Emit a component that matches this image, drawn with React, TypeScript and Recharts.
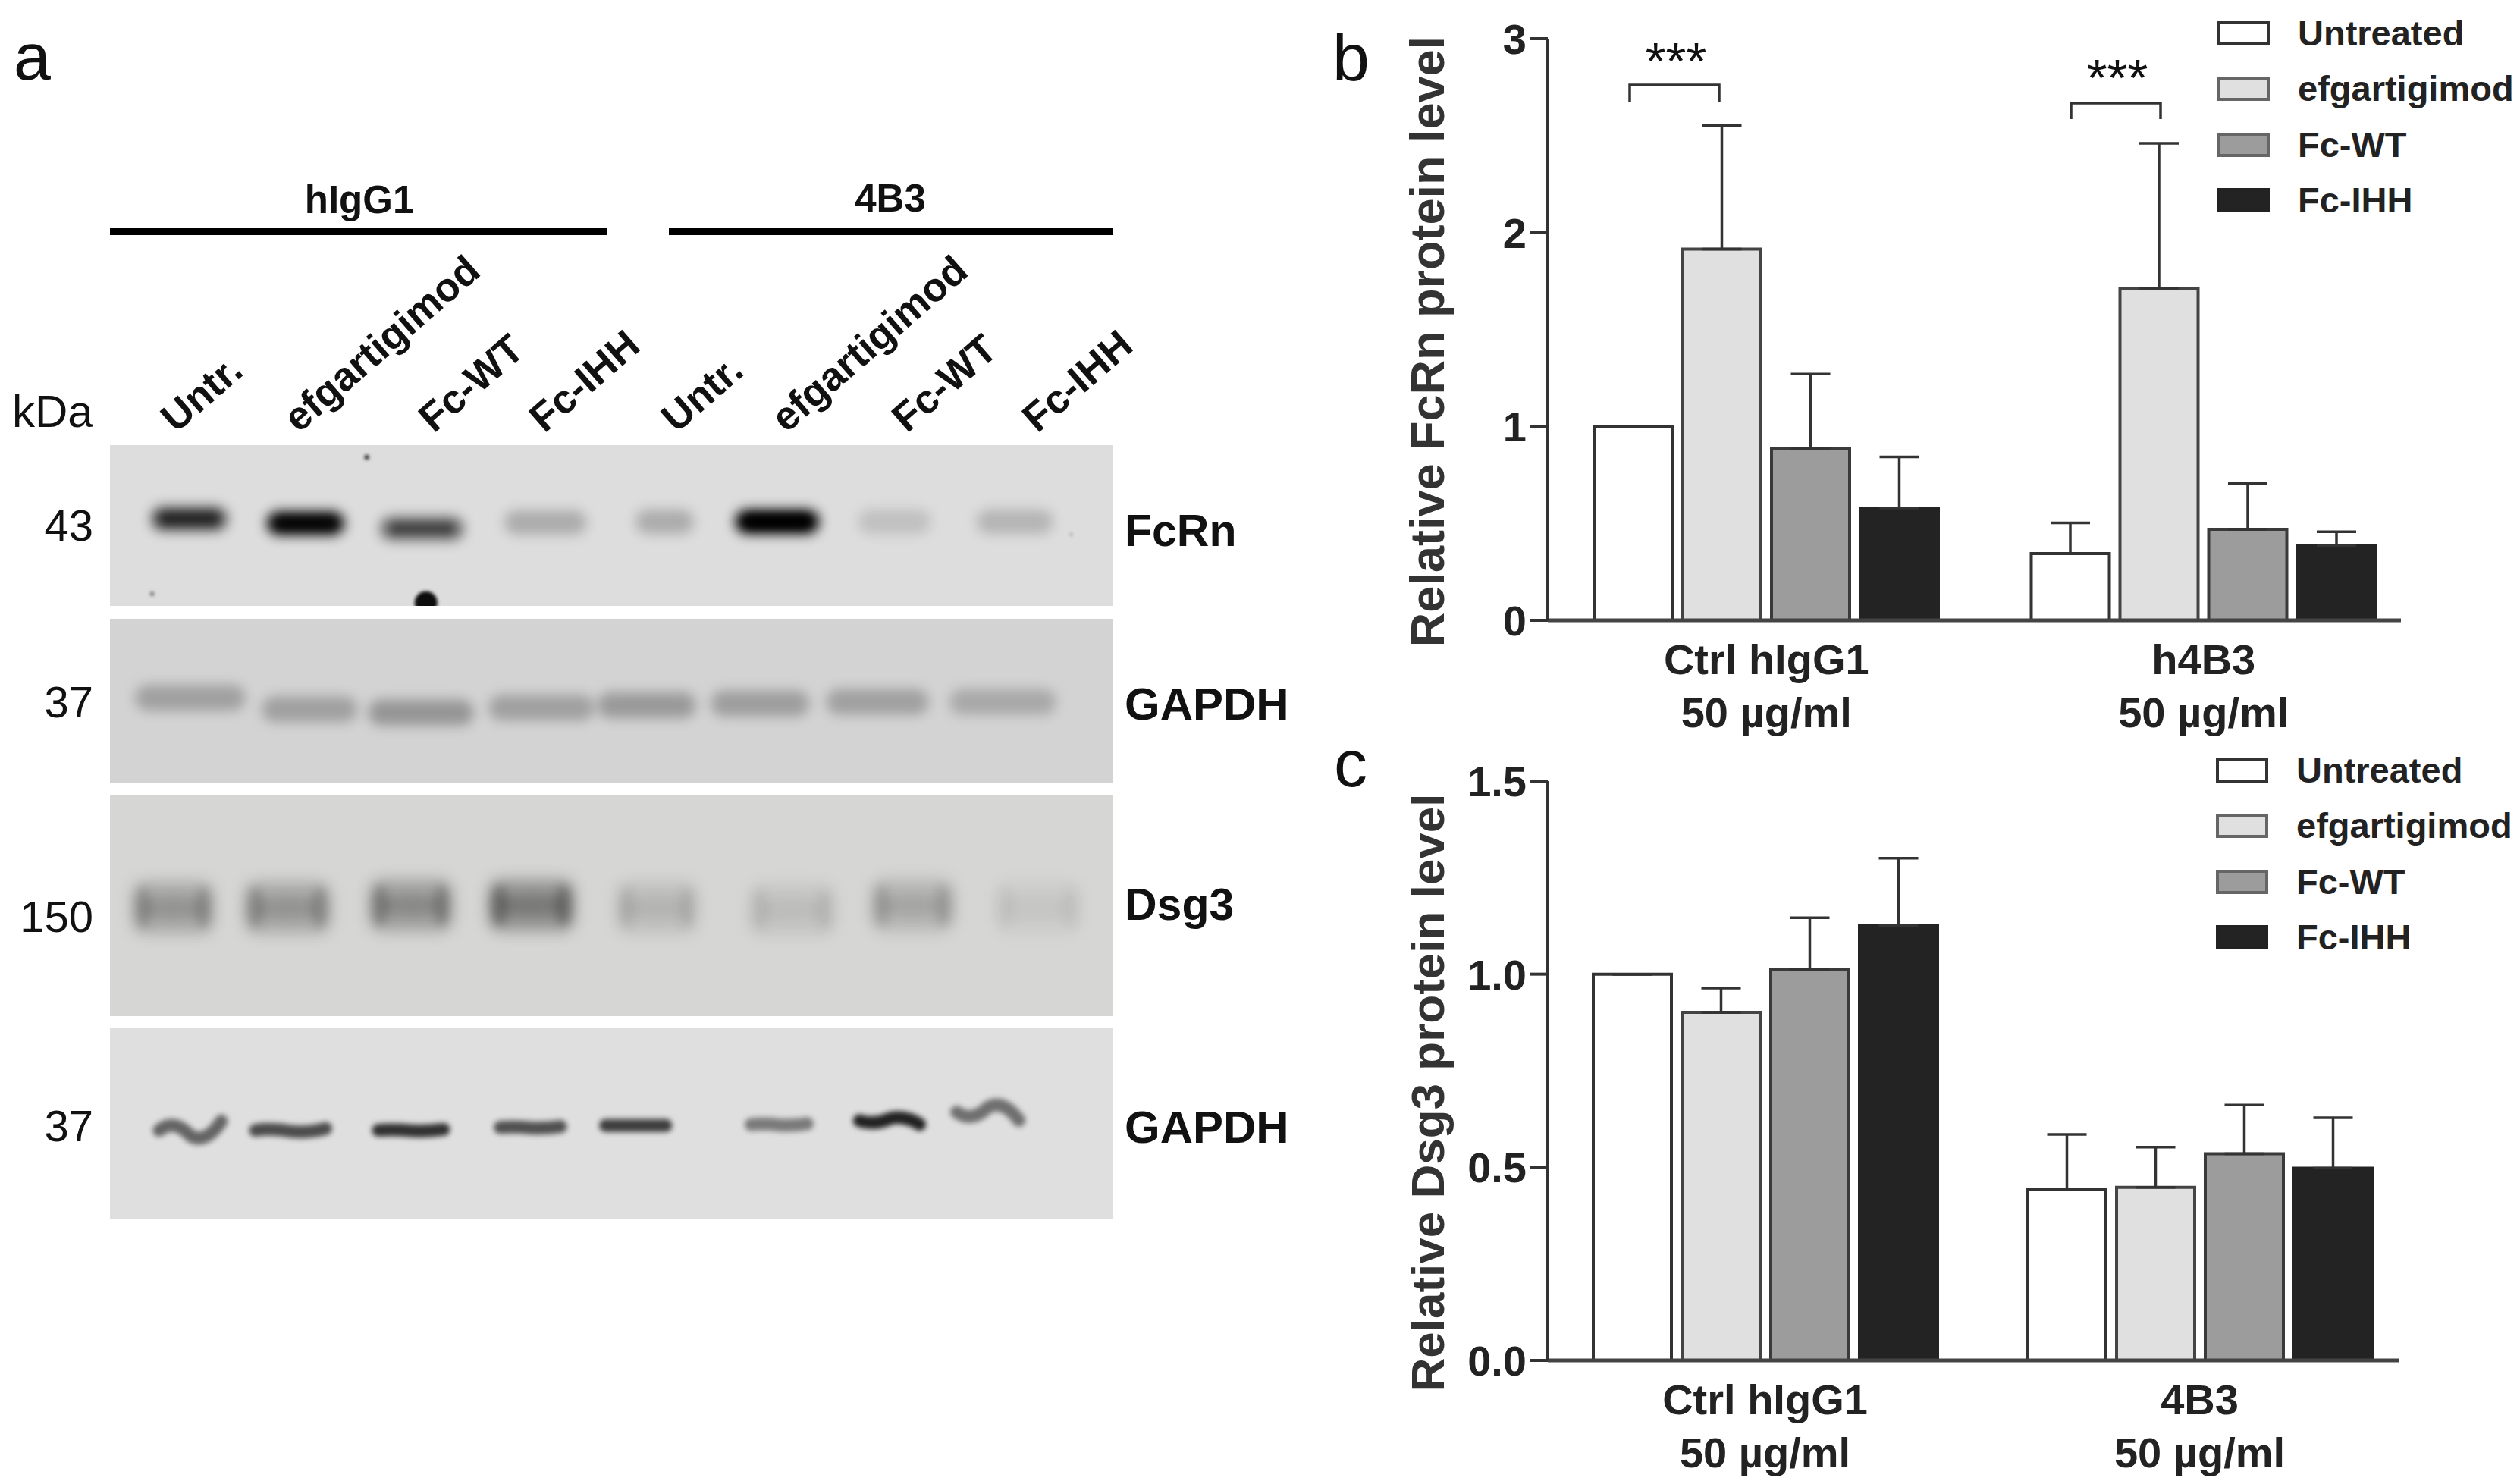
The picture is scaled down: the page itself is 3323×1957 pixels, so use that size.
import React from 'react';
import { BarChart, Bar, XAxis, YAxis, ErrorBar, Legend, ScatterChart, Scatter } from 'recharts';

// ---------- bar chart data ----------
const seriesNames = ['Untreated', 'efgartigimod', 'Fc-WT', 'Fc-IHH'];
const fcrnGroups = ['Ctrl hIgG1\n50 µg/ml', 'h4B3\n50 µg/ml'];
const fcrnUntreated = [1.0, 0.344];
const fcrnEfgartigimod = [1.915, 1.713];
const fcrnWT = [0.887, 0.469];
const fcrnIHH = [0.579, 0.384];
const fcrnErrUntreated = [0, 0.159];
const fcrnErrEfgartigimod = [0.638, 0.747];
const fcrnErrWT = [0.383, 0.237];
const fcrnErrIHH = [0.264, 0.073];

const dsgGroups = ['Ctrl hIgG1\n50 µg/ml', '4B3\n50 µg/ml'];
const dsgUntreated = [1.0, 0.443];
const dsgEfgartigimod = [0.901, 0.448];
const dsgWT = [1.012, 0.535];
const dsgIHH = [1.126, 0.4975];
const dsgErrUntreated = [0, 0.142];
const dsgErrEfgartigimod = [0.063, 0.104];
const dsgErrWT = [0.134, 0.126];
const dsgErrIHH = [0.174, 0.131];

const fcrnTicks = [0, 1, 2, 3];
const dsgTicks = [0, 0.5, 1.0, 1.5];

// ---------- gel data: lane position and migration, as fractions of the membrane ----------
const fcrnLanes = [0.079, 0.195, 0.311, 0.434, 0.553, 0.665, 0.782, 0.902];
const fcrnMigration = [0.458, 0.486, 0.519, 0.481, 0.476, 0.476, 0.476, 0.476];
const fcrnSignal = [0.66, 0.92, 0.5, 0.22, 0.22, 1.0, 0.13, 0.18];
const fcrnBandWidth = [0.076, 0.078, 0.084, 0.082, 0.058, 0.084, 0.072, 0.076];

const gapdh1Lanes = [0.08, 0.199, 0.31, 0.43, 0.535, 0.648, 0.765, 0.89];
const gapdh1Migration = [0.48, 0.55, 0.57, 0.54, 0.525, 0.515, 0.505, 0.505];
const gapdh1Signal = [0.24, 0.24, 0.29, 0.24, 0.27, 0.25, 0.24, 0.2];
const gapdh1BandWidth = [0.11, 0.095, 0.105, 0.105, 0.098, 0.098, 0.102, 0.106];

const dsgLanes = [0.063, 0.177, 0.3, 0.42, 0.545, 0.68, 0.8, 0.925];
const dsgMigration = [0.51, 0.51, 0.5, 0.5, 0.51, 0.52, 0.5, 0.51];
const dsgSignal = [0.3, 0.3, 0.36, 0.44, 0.15, 0.11, 0.22, 0.07];
const dsgBandWidth = [0.08, 0.085, 0.082, 0.085, 0.08, 0.085, 0.082, 0.085];

const gapdh2Lanes = [0.08, 0.18, 0.3, 0.419, 0.524, 0.667, 0.777, 0.875];
const gapdh2Migration = [0.54, 0.54, 0.54, 0.525, 0.515, 0.51, 0.49, 0.445];
const gapdh2Signal = [0.55, 0.66, 0.78, 0.64, 0.72, 0.45, 0.85, 0.5];
const gapdh2BandWidth = [0.062, 0.07, 0.065, 0.06, 0.06, 0.056, 0.06, 0.062];
const gapdh2Wave = [10, 2, 1, 1, 0, 1, -4, -9];

const speckX = [0.256, 0.315, 0.042, 0.958];
const speckY = [0.075, 0.98, 0.925, 0.555];
const speckSize = [6, 30, 5, 3];
const speckSignal = [0.9, 0.95, 0.6, 0.5];

const PANEL_W = 1323;

const table = (groups: string[], vals: number[][], errs: number[][]) =>
  groups.map((g, i) => {
    const row: any = { group: g };
    seriesNames.forEach((s, k) => {
      row[s] = vals[k][i];
      row[s + ' err'] = errs[k][i];
    });
    return row;
  });

const fcrnData = table(
  fcrnGroups,
  [fcrnUntreated, fcrnEfgartigimod, fcrnWT, fcrnIHH],
  [fcrnErrUntreated, fcrnErrEfgartigimod, fcrnErrWT, fcrnErrIHH]
);
const dsgData = table(
  dsgGroups,
  [dsgUntreated, dsgEfgartigimod, dsgWT, dsgIHH],
  [dsgErrUntreated, dsgErrEfgartigimod, dsgErrWT, dsgErrIHH]
);

const bands = (x: number[], y: number[], s: number[], w: number[], wave?: number[]) =>
  x.map((v, i) => ({ x: v, y: y[i], s: s[i], w: w[i], wave: wave ? wave[i] : 0 }));

const FONT = '"Liberation Sans", Arial, sans-serif';
const INK = '#222222';
const fills = ['#ffffff', '#e0e0e0', '#9c9c9c', '#232323'];
const strokes = ['#333333', '#444444', '#3a3a3a', '#232323'];

// ---------- gel marks ----------
const softBand = (bandHeight: number, blur: number) => (p: any) => {
  const w = p.payload.w * PANEL_W;
  return (
    <g>
      <rect
        x={p.cx - w / 2}
        y={p.cy - bandHeight / 2}
        width={w}
        height={bandHeight}
        rx={bandHeight / 2}
        fill="#000"
        fillOpacity={p.payload.s}
        style={{ filter: `blur(${blur}px)` }}
      />
      {p.payload.s > 0.45 && (
        <rect
          x={p.cx - w * 0.38}
          y={p.cy - bandHeight * 0.22}
          width={w * 0.76}
          height={bandHeight * 0.44}
          rx={bandHeight * 0.22}
          fill="#000"
          fillOpacity={p.payload.s * 0.85}
          style={{ filter: `blur(${blur * 0.7}px)` }}
        />
      )}
    </g>
  );
};

const dsgBand = (p: any) => {
  const w = p.payload.w * PANEL_W;
  const h = 68;
  const s = p.payload.s;
  return (
    <g>
      <rect
        x={p.cx - w / 2}
        y={p.cy - h / 2}
        width={w}
        height={h}
        rx={16}
        fill="#000"
        fillOpacity={s * 0.7}
        style={{ filter: 'blur(10px)' }}
      />
      <ellipse cx={p.cx - w * 0.38} cy={p.cy} rx={w * 0.1} ry={h * 0.4} fill="#000" fillOpacity={s * 0.6} style={{ filter: 'blur(7px)' }} />
      <ellipse cx={p.cx + w * 0.38} cy={p.cy} rx={w * 0.1} ry={h * 0.4} fill="#000" fillOpacity={s * 0.6} style={{ filter: 'blur(7px)' }} />
      <ellipse cx={p.cx} cy={p.cy} rx={w * 0.4} ry={h * 0.2} fill="#000" fillOpacity={s * 0.4} style={{ filter: 'blur(8px)' }} />
    </g>
  );
};

const waveBand = (p: any) => {
  const w = p.payload.w * PANEL_W;
  const a = p.payload.wave;
  const d = `M ${p.cx - w / 2} ${p.cy - 1} q ${w / 4} ${-a * 1.6} ${w / 2} ${a * 0.7} q ${w / 4} ${a * 1.2} ${w / 2} ${-a * 1.9}`;
  return (
    <path
      d={d}
      fill="none"
      stroke="#000"
      strokeOpacity={p.payload.s}
      strokeWidth={17}
      strokeLinecap="round"
      style={{ filter: 'blur(3.6px)' }}
    />
  );
};

const speck = (p: any) => (
  <circle cx={p.cx} cy={p.cy} r={p.payload.w / 2} fill="#000" fillOpacity={p.payload.s} style={{ filter: 'blur(2px)' }} />
);

const GelPanel = ({ top, height, bg, data, shape, extra }: any) => (
  <div style={{ position: 'absolute', left: 145, top, width: PANEL_W, height, background: bg, overflow: 'hidden' }}>
    <ScatterChart width={PANEL_W} height={height} margin={{ top: 0, right: 0, bottom: 0, left: 0 }}>
      <XAxis dataKey="x" type="number" domain={[0, 1]} hide />
      <YAxis dataKey="y" type="number" domain={[0, 1]} reversed hide />
      <Scatter data={data} shape={shape} isAnimationActive={false} />
      {extra && <Scatter data={extra} shape={speck} isAnimationActive={false} />}
    </ScatterChart>
  </div>
);

// ---------- bar chart parts ----------
const GroupTick = (p: any) => {
  const [a, b] = String(p.payload.value).split('\n');
  return (
    <text x={p.x} y={p.y} textAnchor="middle" fontFamily={FONT} fontWeight="bold" fontSize={56} fill={INK}>
      <tspan x={p.x} y={p.y + 63}>{a}</tspan>
      <tspan x={p.x} y={p.y + 133}>{b}</tspan>
    </text>
  );
};

const SwatchLegend = (p: any) => (
  <div>
    {(p.payload || []).map((e: any, i: number) => (
      <div key={e.value} style={{ position: 'relative', height: 73.3, fontFamily: FONT, fontWeight: 'bold', fontSize: 47, color: INK, whiteSpace: 'nowrap' }}>
        <div
          style={{
            position: 'absolute',
            left: 0,
            top: 21,
            width: 69,
            height: 32,
            boxSizing: 'border-box',
            background: fills[i],
            border: `4px solid ${i === 0 ? '#333' : i === 3 ? '#222' : '#666'}`,
          }}
        />
        <span style={{ position: 'absolute', left: 106, top: 10, lineHeight: '54px' }}>{e.value}</span>
      </div>
    ))}
  </div>
);

const RatioChart = ({ top, height, marginTop, marginBottom, marginRight, padRight, data, domain, ticks, fmt, title, titleSize, titleDy, legendTop, legendLeft }: any) => (
  <div style={{ position: 'absolute', left: 1740, top, width: 1583, height }}>
    <BarChart
      width={1583}
      height={height}
      data={data}
      margin={{ top: marginTop, right: marginRight, bottom: marginBottom, left: 0 }}
      barSize={103}
      barGap={14}
    >
      <XAxis
        dataKey="group"
        type="category"
        padding={{ left: 0, right: padRight }}
        interval={0}
        tickLine={false}
        height={1}
        axisLine={{ stroke: '#444', strokeWidth: 5 }}
        tick={<GroupTick />}
      />
      <YAxis
        type="number"
        width={301}
        domain={domain}
        ticks={ticks}
        interval={0}
        tickFormatter={fmt}
        tickSize={23}
        tickMargin={5}
        tickLine={{ stroke: '#333', strokeWidth: 4 }}
        axisLine={{ stroke: '#333', strokeWidth: 4 }}
        tick={{ fontFamily: FONT, fontWeight: 'bold', fontSize: 56, fill: INK }}
        label={{
          value: title,
          angle: -90,
          position: 'center',
          dx: -9,
          dy: titleDy,
          style: { fontFamily: FONT, fontWeight: 'bold', fontSize: titleSize, fill: '#333', textAnchor: 'middle' },
        }}
      />
      <Legend
        layout="vertical"
        align="center"
        verticalAlign="middle"
        itemSorter={null}
        content={SwatchLegend as any}
        wrapperStyle={{ left: legendLeft, top: legendTop, width: 400 }}
      />
      {seriesNames.map((s, i) => (
        <Bar key={s} dataKey={s} name={s} fill={fills[i]} stroke={strokes[i]} strokeWidth={4} isAnimationActive={false}>
          <ErrorBar
            dataKey={(d: any) => [0, d[s + ' err']]}
            direction="y"
            width={26}
            stroke="#333"
            strokeWidth={3.5}
            isAnimationActive={false}
          />
        </Bar>
      ))}
    </BarChart>
  </div>
);

// ---------- text overlay ----------
const T = ({ x, y, size = 54, bold = false, anchor = 'start', rot, children }: any) => (
  <text
    x={x}
    y={y}
    fontFamily={FONT}
    fontSize={size}
    fontWeight={bold ? 'bold' : 'normal'}
    textAnchor={anchor}
    fill="#111"
    transform={rot ? `rotate(${rot} ${x} ${y})` : undefined}
  >
    {children}
  </text>
);

const laneLabels: [string, number][] = [
  ['Untr.', 232], ['efgartigimod', 394], ['Fc-WT', 572], ['Fc-IHH', 718],
  ['Untr.', 892], ['efgartigimod', 1037], ['Fc-WT', 1196], ['Fc-IHH', 1368],
];

export default function App() {
  return (
    <div style={{ position: 'absolute', left: 0, top: 0, width: 3323, height: 1957, background: '#fff', overflow: 'hidden' }}>
      <GelPanel
        top={587}
        height={212}
        bg="#dddddd"
        data={bands(fcrnLanes, fcrnMigration, fcrnSignal, fcrnBandWidth)}
        shape={softBand(32, 8)}
        extra={speckX.map((x, i) => ({ x, y: speckY[i], w: speckSize[i], s: speckSignal[i] }))}
      />
      <GelPanel top={816} height={217} bg="#d3d3d3" data={bands(gapdh1Lanes, gapdh1Migration, gapdh1Signal, gapdh1BandWidth)} shape={softBand(34, 8)} />
      <GelPanel top={1048} height={292} bg="#d6d6d4" data={bands(dsgLanes, dsgMigration, dsgSignal, dsgBandWidth)} shape={dsgBand} />
      <GelPanel top={1355} height={253} bg="#dfdfdf" data={bands(gapdh2Lanes, gapdh2Migration, gapdh2Signal, gapdh2BandWidth, gapdh2Wave)} shape={waveBand} />

      <RatioChart
        top={0}
        height={980}
        marginTop={51}
        marginBottom={161}
        marginRight={157}
        padRight={-28}
        data={fcrnData}
        domain={[0, 3]}
        ticks={fcrnTicks}
        fmt={(v: number) => String(v)}
        title="Relative FcRn protein level"
        titleSize={63}
        titleDy={16}
        legendLeft={1184}
        legendTop={7}
      />
      <RatioChart
        top={970}
        height={987}
        marginTop={60}
        marginBottom={162}
        marginRight={159}
        padRight={-23}
        data={dsgData}
        domain={[0, 1.5]}
        ticks={dsgTicks}
        fmt={(v: number) => v.toFixed(1)}
        title="Relative Dsg3 protein level"
        titleSize={62}
        titleDy={29}
        legendLeft={1182}
        legendTop={9}
      />

      <svg width={3323} height={1957} style={{ position: 'absolute', left: 0, top: 0, pointerEvents: 'none' }}>
        <T x={18} y={105} size={88}>a</T>
        <T x={1757} y={106} size={88}>b</T>
        <T x={1759} y={1037} size={88}>c</T>

        <T x={474} y={281} size={51} bold anchor="middle">hIgG1</T>
        <T x={1174} y={279} size={51} bold anchor="middle">4B3</T>
        <rect x={145} y={301} width={656} height={9} fill="#000" />
        <rect x={882} y={301} width={586} height={9} fill="#000" />

        {laneLabels.map(([t, x], i) => (
          <T key={i} x={x} y={572} size={53} bold rot={-41}>{t}</T>
        ))}

        <T x={16} y={563} size={60}>kDa</T>
        <T x={123} y={713} size={58} anchor="end">43</T>
        <T x={123} y={946} size={58} anchor="end">37</T>
        <T x={123} y={1229} size={58} anchor="end">150</T>
        <T x={123} y={1505} size={58} anchor="end">37</T>

        <T x={1483} y={720} size={59} bold>FcRn</T>
        <T x={1483} y={949} size={60} bold>GAPDH</T>
        <T x={1483} y={1213} size={59} bold>Dsg3</T>
        <T x={1483} y={1507} size={60} bold>GAPDH</T>

        <path d="M 2149 134 V 112 H 2267 V 134" fill="none" stroke="#333" strokeWidth={3.5} />
        <path d="M 2731 157 V 136 H 2849 V 157" fill="none" stroke="#333" strokeWidth={3.5} />
        <T x={2210} y={104} size={69} anchor="middle">***</T>
        <T x={2792} y={126} size={69} anchor="middle">***</T>
      </svg>
    </div>
  );
}
